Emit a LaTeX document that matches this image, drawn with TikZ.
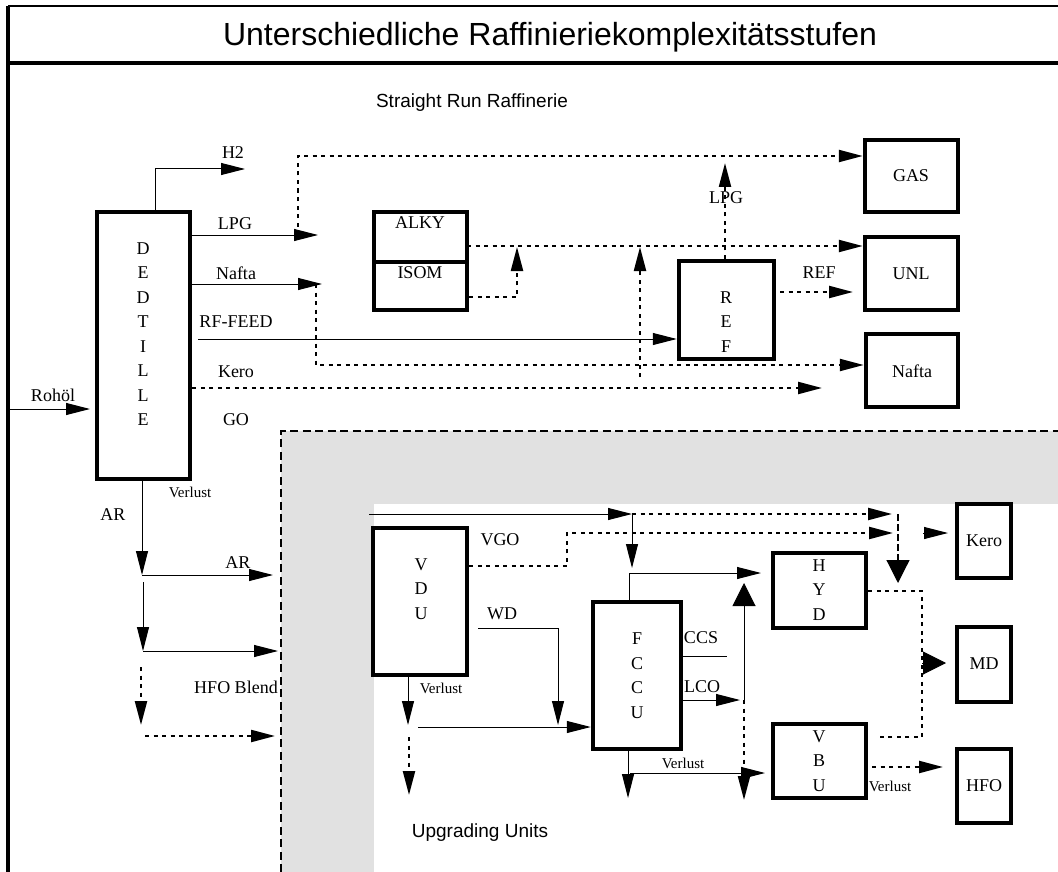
\documentclass[tikz,border=0pt]{standalone}
\usepackage{fontspec}
\setmainfont{Liberation Serif}
\newfontfamily\sansf{Liberation Sans}
\usetikzlibrary{arrows.meta}
\definecolor{bandgray}{RGB}{225,225,225}
\begin{document}
\begin{tikzpicture}[x=1pt,y=-1pt,
  unitbox/.style={draw, line width=4.5pt, inner sep=0pt},
  lab/.style={inner sep=0pt, font=\fontsize{18}{20}\selectfont},
  stack/.style={inner sep=0pt, align=center, font=\fontsize{18}{24.5}\selectfont},
  small/.style={inner sep=0pt, font=\fontsize{15}{17}\selectfont},
  sanslab/.style={inner sep=0pt, font=\sansf\fontsize{19}{22}\selectfont},
  flow/.style={line width=1pt},
  tip/.style={-{Triangle[length=24pt 0 0,width=12pt 0 0]}},
  bigtip/.style={-{Triangle[length=23pt 0 0,width=23pt 0 0]}},
  dots/.style={line width=2.2pt, dash pattern=on 4pt off 4.5pt},
  dsh/.style={line width=1.2pt, dash pattern=on 6.5pt off 3.5pt},
  bandline/.style={line width=2pt, dash pattern=on 8pt off 4.5pt}]
\useasboundingbox (0,0) rectangle (1058,872);
% upgrading band
\fill[bandgray] (281,431) rectangle (1058,872);
\fill[white] (374,504) rectangle (1058,872);
\draw[bandline] (281,872) -- (281,431) -- (1058,431);
% frame
\draw[line width=3.5pt] (8,872) -- (8,6);
\draw[line width=2.5pt] (8,6) -- (1058,6);
\draw[line width=3.5pt] (8,63) -- (1058,63);
\node[inner sep=0pt, font=\sansf\fontsize{32}{36}\selectfont] (title) at (550,37) {Unterschiedliche Raffinieriekomplexitätsstufen};
\node[sanslab] (srr) at (472,103) {Straight Run Raffinerie};
\node[sanslab] (upg) at (480,833) {Upgrading Units};
% boxes
\node[unitbox, minimum width=93pt, minimum height=267pt] (ded) at (143.5,345.5) {};
\node[stack] (dedt) at (143,334) {D\\E\\D\\T\\I\\L\\L\\E};
\node[unitbox, minimum width=93pt, minimum height=50pt] (alky) at (420.5,237) {};
\node[unitbox, minimum width=93pt, minimum height=48pt] (isom) at (420.5,286) {};
\node[lab] (alkyt) at (420,223) {ALKY};
\node[lab] (isomt) at (420,273) {ISOM};
\node[unitbox, minimum width=95pt, minimum height=98pt] (ref) at (726.5,310) {};
\node[stack] (reft) at (726,322) {R\\E\\F};
\node[unitbox, minimum width=93pt, minimum height=72pt] (gas) at (911.5,176) {};
\node[lab] (gast) at (911,176) {GAS};
\node[unitbox, minimum width=93pt, minimum height=73pt] (unl) at (911.5,273.5) {};
\node[lab] (unlt) at (911,274) {UNL};
\node[unitbox, minimum width=92pt, minimum height=73pt] (nafta) at (912,370.5) {};
\node[lab] (naftat) at (912,371) {Nafta};
\node[unitbox, minimum width=94pt, minimum height=147pt] (vdu) at (420,601.5) {};
\node[stack] (vdut) at (421,589) {V\\D\\U};
\node[unitbox, minimum width=88pt, minimum height=147pt] (fccu) at (637,675.5) {};
\node[stack] (fccut) at (637,675.5) {F\\C\\C\\U};
\node[unitbox, minimum width=93pt, minimum height=75pt] (hyd) at (819.5,590.5) {};
\node[stack] (hydt) at (819,590) {H\\Y\\D};
\node[unitbox, minimum width=93pt, minimum height=74pt] (vbu) at (819.5,761) {};
\node[stack] (vbut) at (819,761) {V\\B\\U};
\node[unitbox, minimum width=54pt, minimum height=74pt] (kero) at (984,541) {};
\node[lab] (kerot) at (984,541) {Kero};
\node[unitbox, minimum width=54pt, minimum height=75pt] (md) at (984,664.5) {};
\node[lab] (mdt) at (984,664) {MD};
\node[unitbox, minimum width=54pt, minimum height=74pt] (hfo) at (984,786) {};
\node[lab] (hfot) at (984,786) {HFO};
% coordinates
\coordinate (rohin) at (8,409); \coordinate (rohtip) at (90,409);
\coordinate (h2c) at (155,169); \coordinate (h2tip) at (245,169);
\coordinate (lpgtip) at (318,235);
\coordinate (naftip) at (322,284);
\coordinate (rfstart) at (198,339);
\coordinate (kerotip) at (822,388);
\coordinate (gasturn) at (298,156);
\coordinate (alkyout) at (467,246);
\coordinate (isomturn) at (517,297); \coordinate (isomtip) at (517,247);
\coordinate (upbot) at (640,377); \coordinate (uptip) at (640,247);
\coordinate (nafturn) at (316,365);
\coordinate (reflpgtip) at (725,163);
\coordinate (refoutA) at (780,292); \coordinate (refoutB) at (853,292);
\coordinate (ar1) at (142,575); \coordinate (ar1tip) at (273,575);
\coordinate (ar2a) at (143,582); \coordinate (ar2) at (143,651); \coordinate (ar2tip) at (278,651);
\coordinate (ar3a) at (141,667); \coordinate (ar3) at (141,725);
\coordinate (ar4a) at (145,736); \coordinate (ar4tip) at (275,736);
\coordinate (topa) at (369,514); \coordinate (topb) at (632,514); \coordinate (topc) at (892,514);
\coordinate (kd1) at (898,514); \coordinate (kd2) at (898,583);
\coordinate (fdown) at (632,568);
\coordinate (fup) at (629,573); \coordinate (hydtip) at (761,573);
\coordinate (vgo1) at (567,566); \coordinate (vgo2) at (567,533); \coordinate (vgotip) at (893,533);
\coordinate (kh1) at (923,533); \coordinate (kh2) at (948,533);
\coordinate (wd1) at (478,628); \coordinate (wd2) at (558,628); \coordinate (wdtip) at (558,725);
\coordinate (vv1) at (408,725); \coordinate (vv2) at (409,737); \coordinate (vv3) at (409,795);
\coordinate (ff1) at (418,727);
\coordinate (ccs1) at (683,656); \coordinate (ccs2) at (727,656);
\coordinate (lcotip) at (740,700);
\coordinate (lcov) at (744,700); \coordinate (lcoup) at (744,583); \coordinate (lcodn) at (744,800);
\coordinate (fv1) at (628,798); \coordinate (fv2) at (630,773); \coordinate (fv3) at (765,773);
\coordinate (hy1) at (922,591); \coordinate (hy2) at (922,737); \coordinate (hy3) at (876,737);
\coordinate (md1) at (922,663); \coordinate (md2) at (946,663);
\coordinate (vb1) at (872,767); \coordinate (vb2) at (943,767);
% straight run connectors
\draw[flow,tip] (rohin) -- (rohtip);
\draw[flow,tip] (ded.north -| h2c) -- (h2c) -- (h2tip);
\draw[flow,tip] (ded.east |- lpgtip) -- (lpgtip);
\draw[flow,tip] (ded.east |- naftip) -- (naftip);
\draw[flow,tip] (rfstart) -- (ref.west |- rfstart);
\draw[dots,tip] (ded.east |- kerotip) -- (kerotip);
\draw[dots,tip] (lpgtip -| gasturn) -- (gasturn) -- (gas.west |- gasturn);
\draw[dots,tip] (alkyout) -- (unl.west |- alkyout);
\draw[dots,tip] (isom.east |- isomturn) -- (isomturn) -- (isomtip);
\draw[dots,tip] (upbot) -- (uptip);
\draw[dots,tip] (naftip -| nafturn) -- (nafturn) -- (nafta.west |- nafturn);
\draw[dots,tip] (ref.north -| reflpgtip) -- (reflpgtip);
\draw[dots,tip] (refoutA) -- (refoutB);
\draw[flow,tip] (ded.south -| ar1) -- (ar1);
\draw[flow,tip] (ar1) -- (ar1tip);
\draw[flow,tip] (ar2a) -- (ar2);
\draw[flow,tip] (ar2) -- (ar2tip);
\draw[dots,tip] (ar3a) -- (ar3);
\draw[dots,tip] (ar4a) -- (ar4tip);
% upgrading connectors
\draw[flow,tip] (topa) -- (topb);
\draw[dots,tip] (topb) -- (topc);
\draw[dsh,bigtip] (kd1) -- (kd2);
\draw[flow,tip] (topb) -- (fdown);
\draw[flow,tip] (fccu.north -| fup) -- (fup) -- (hydtip);
\draw[dots,tip] (vdu.east |- vgo1) -- (vgo1) -- (vgo2) -- (vgotip);
\draw[flow,tip] (kh1) -- (kh2);
\draw[flow,tip] (wd1) -- (wd2) -- (wdtip);
\draw[flow,tip] (vdu.south -| vv1) -- (vv1);
\draw[dots,tip] (vv2) -- (vv3);
\draw[flow,tip] (ff1) -- (fccu.west |- ff1);
\draw[flow] (ccs1) -- (ccs2);
\draw[flow,tip] (fccu.east |- lcotip) -- (lcotip);
\draw[flow,bigtip] (lcov) -- (lcoup);
\draw[dots,tip] (lcov) -- (lcodn);
\draw[flow,tip] (fccu.south -| fv1) -- (fv1);
\draw[flow,tip] (fv2) -- (fv3);
\draw[dots] (hyd.east |- hy1) -- (hy1) -- (hy2) -- (hy3);
\draw[flow,bigtip] (md1) -- (md2);
\draw[dots,tip] (vb1) -- (vb2);
% labels
\node[lab] (lrohol) at (53,395) {Rohöl};
\node[lab] (lh2) at (233,153) {H2};
\node[lab] (llpg) at (235,224) {LPG};
\node[lab] (lnafta) at (236,273) {Nafta};
\node[lab] (lrf) at (236,322) {RF-FEED};
\node[lab] (lkero) at (236,372) {Kero};
\node[lab] (lgo) at (236,420) {GO};
\node[small] (lverl1) at (190,492) {Verlust};
\node[lab] (lar1) at (113,515) {AR};
\node[lab] (lar2) at (238,563) {AR};
\node[lab] (lhfob) at (236,687) {HFO Blend};
\node[lab] (lreflpg) at (726,198) {LPG};
\node[lab] (lref) at (819,273) {REF};
\node[lab] (lvgo) at (500,540) {VGO};
\node[lab] (lwd) at (502,614) {WD};
\node[small] (lverl2) at (441,688) {Verlust};
\node[lab] (lccs) at (701,638) {CCS};
\node[lab] (llco) at (702,687) {LCO};
\node[small] (lverl3) at (683,763) {Verlust};
\node[small] (lverl4) at (890,786) {Verlust};
\end{tikzpicture}
\end{document}
